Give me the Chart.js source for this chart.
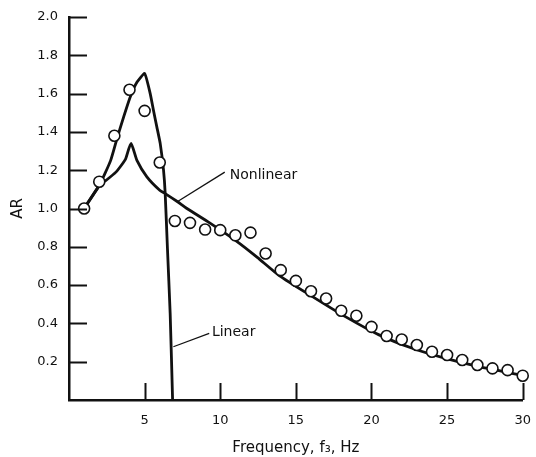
<!DOCTYPE html>
<html>
<head>
<meta charset="utf-8">
<script src="https://cdn.jsdelivr.net/npm/chart.js@4/dist/chart.umd.min.js"></script>
<style>
  html, body { margin: 0; padding: 0; background: #fff; }
  canvas { display: block; }
</style>
</head>
<body>
<canvas id="c" width="536" height="457"></canvas>
<script>
// Measured amplitude ratio (circles)
const measuredFreq = [1,2,3,4,5,6,7,8,9,10,11,12,13,14,15,16,17,18,19,20,21,22,23,24,25,26,27,28,29,30];
const measuredAR   = [1.0,1.14,1.38,1.62,1.51,1.24,0.935,0.925,0.89,0.887,0.86,0.874,0.765,0.678,0.622,0.568,0.53,0.466,0.44,0.382,0.334,0.316,0.287,0.252,0.235,0.209,0.183,0.165,0.156,0.127];

// Nonlinear model curve
const nonlinearFreq = [1,2,2.5,3.1,3.5,3.75,4.1,4.5,5.15,6.0,6.36,7.13,7.8,9.3,11.07,12.45,13.9,16.1,18.3,20.5,22.7,24.9,27.1,29.9];
const nonlinearAR   = [1.0,1.12,1.15,1.19,1.23,1.26,1.34,1.25,1.165,1.095,1.078,1.038,1.0,0.925,0.83,0.745,0.65,0.54,0.434,0.34,0.27,0.217,0.174,0.13];

// Linear model curve
const linearFreq = [1,2,2.75,3.19,3.62,4.06,4.5,5.0,5.37,5.59,5.81,6.03,6.25,6.36,6.51,6.69,6.85];
const linearAR   = [1.0,1.12,1.25,1.37,1.48,1.585,1.66,1.705,1.60,1.51,1.425,1.34,1.2,1.078,0.79,0.45,0];

// Axis ticks
const xTickValues = [5,10,15,20,25,30];
const yTickValues = [0.2,0.4,0.6,0.8,1.0,1.2,1.4,1.6,1.8,2.0];

// Curve labels with leader lines (data coordinates)
const curveLabels = ['Nonlinear', 'Linear'];
const labelFrom = [[7.13,1.034],[6.9,0.278]];
const labelTo   = [[10.3,1.19],[9.27,0.348]];
const labelAt   = [[10.63,1.175],[9.45,0.355]];

const toPts = (xs, ys) => xs.map((x, i) => ({x, y: ys[i]}));
const INK = '#111';
const FONT = "'DejaVu Sans', sans-serif";

const decorPlugin = {
  id: 'decor',
  afterDatasetsDraw(chart) {
    const {ctx, chartArea, scales: {x, y}} = chart;
    ctx.save();
    ctx.strokeStyle = INK;
    ctx.lineWidth = 2;
    // inward ticks
    yTickValues.forEach(v => {
      const py = Math.round(y.getPixelForValue(v)) + 0.5;
      ctx.beginPath();
      ctx.moveTo(chartArea.left, py);
      ctx.lineTo(chartArea.left + 18, py);
      ctx.stroke();
    });
    xTickValues.forEach(v => {
      const px = Math.round(x.getPixelForValue(v)) + 0.5;
      ctx.beginPath();
      ctx.moveTo(px, chartArea.bottom);
      ctx.lineTo(px, chartArea.bottom - 17);
      ctx.stroke();
    });
    // leader lines + labels
    ctx.lineWidth = 1.3;
    ctx.fillStyle = INK;
    ctx.font = "14px " + FONT;
    ctx.textBaseline = 'middle';
    ctx.textAlign = 'left';
    curveLabels.forEach((t, i) => {
      ctx.beginPath();
      ctx.moveTo(x.getPixelForValue(labelFrom[i][0]), y.getPixelForValue(labelFrom[i][1]));
      ctx.lineTo(x.getPixelForValue(labelTo[i][0]), y.getPixelForValue(labelTo[i][1]));
      ctx.stroke();
      ctx.fillText(t, x.getPixelForValue(labelAt[i][0]), y.getPixelForValue(labelAt[i][1]));
    });
    ctx.restore();
  }
};

new Chart(document.getElementById('c'), {
  type: 'scatter',
  data: {
    datasets: [
      {
        label: 'Measured',
        data: toPts(measuredFreq, measuredAR),
        showLine: false,
        pointRadius: 5.5,
        pointBorderWidth: 1.6,
        pointBackgroundColor: '#fff',
        pointBorderColor: INK
      },
      {
        label: 'Nonlinear',
        data: toPts(nonlinearFreq, nonlinearAR),
        showLine: true,
        borderColor: INK,
        borderWidth: 2.8,
        pointRadius: 0,
        tension: 0.2
      },
      {
        label: 'Linear',
        data: toPts(linearFreq, linearAR),
        showLine: true,
        borderColor: INK,
        borderWidth: 2.8,
        pointRadius: 0,
        tension: 0.15
      }
    ]
  },
  options: {
    responsive: false,
    animation: false,
    clip: false,
    layout: { padding: { left: 0, right: 11, top: 17, bottom: 0 } },
    plugins: { legend: { display: false }, tooltip: { enabled: false } },
    scales: {
      x: {
        type: 'linear',
        min: 0, max: 30,
        afterFit(s) { s.height = 57; },
        afterBuildTicks(s) { s.ticks = xTickValues.map(v => ({value: v})); },
        grid: { display: false },
        border: { display: true, color: INK, width: 2.5 },
        ticks: { color: INK, padding: 5, font: { family: FONT, size: 13 }, maxRotation: 0,
                 callback: v => String(v) },
        title: { display: true, text: 'Frequency, f\u2083, Hz', color: INK,
                 font: { family: FONT, size: 15 }, padding: { top: 0, bottom: 0 } }
      },
      y: {
        type: 'linear',
        min: 0, max: 2.0,
        afterFit(s) { s.width = 69; },
        afterBuildTicks(s) { s.ticks = yTickValues.map(v => ({value: v})); },
        grid: { display: false },
        border: { display: true, color: INK, width: 2.5 },
        ticks: { color: INK, padding: 3, font: { family: FONT, size: 13 },
                 callback: v => Number(v).toFixed(1) },
        title: { display: true, text: 'AR', color: INK,
                 font: { family: FONT, size: 15 }, padding: { top: 9, bottom: 0 } }
      }
    }
  },
  plugins: [decorPlugin]
});
</script>
</body>
</html>
